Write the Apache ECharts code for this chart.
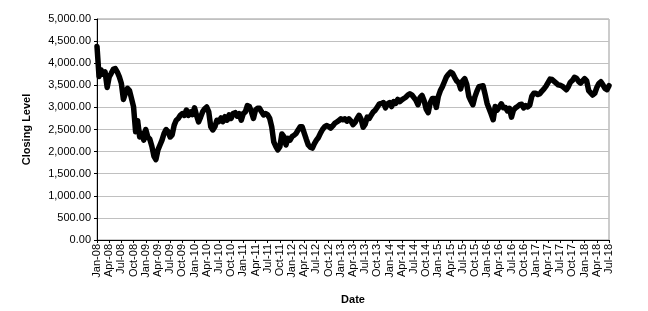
<!DOCTYPE html>
<html>
<head>
<meta charset="utf-8">
<script src="https://cdn.jsdelivr.net/npm/echarts@6/dist/echarts.min.js"></script>
<style>
html,body{margin:0;padding:0;background:#fff;}
#chart{width:648px;height:311px;}
</style>
</head>
<body>
<div id="chart"></div>
<script>
// Quarterly tick labels (x axis, one every 3 months starting Jan-08)
var tickLabels = ['Jan-08','Apr-08','Jul-08','Oct-08','Jan-09','Apr-09','Jul-09','Oct-09',
  'Jan-10','Apr-10','Jul-10','Oct-10','Jan-11','Apr-11','Jul-11','Oct-11',
  'Jan-12','Apr-12','Jul-12','Oct-12','Jan-13','Apr-13','Jul-13','Oct-13',
  'Jan-14','Apr-14','Jul-14','Oct-14','Jan-15','Apr-15','Jul-15','Oct-15',
  'Jan-16','Apr-16','Jul-16','Oct-16','Jan-17','Apr-17','Jul-17','Oct-17',
  'Jan-18','Apr-18','Jul-18'];

// Closing level, sampled every half month from Jan-08 to Jul-18
var closing = [
  4380,3700,3850,3750,3800,3450,3690,3770,3860,3880,
  3800,3690,3540,3180,3320,3430,3380,3200,3010,2450,
  2700,2330,2420,2260,2500,2330,2280,2120,1900,1820,
  2040,2150,2260,2410,2500,2450,2330,2380,2600,2710,
  2750,2820,2860,2820,2940,2820,2900,2840,2990,2820,
  2670,2780,2900,2970,3010,2900,2560,2490,2560,2710,
  2680,2760,2680,2790,2710,2830,2750,2860,2880,2800,
  2860,2710,2860,2900,3040,3020,2900,2750,2940,2980,
  2980,2900,2830,2860,2830,2750,2560,2220,2120,2040,
  2110,2400,2340,2150,2300,2260,2340,2370,2410,2490,
  2560,2560,2420,2280,2150,2100,2080,2180,2260,2320,
  2420,2500,2560,2590,2570,2530,2580,2640,2670,2700,
  2740,2720,2740,2690,2740,2690,2610,2660,2750,2820,
  2730,2550,2620,2780,2750,2830,2900,2940,3010,3080,
  3090,3110,2990,3080,3110,3020,3130,3090,3180,3130,
  3170,3200,3230,3280,3310,3280,3220,3160,3060,3220,
  3270,3150,2960,2880,3100,3200,3200,3000,3250,3380,
  3470,3580,3690,3750,3800,3770,3680,3600,3560,3420,
  3600,3650,3520,3250,3150,3060,3240,3370,3470,3480,
  3490,3300,3090,2970,2850,2720,3020,2940,3010,3080,
  2990,3000,2920,2980,2780,2940,2990,3020,3060,3070,
  2990,3040,3010,3050,3250,3320,3320,3290,3310,3370,
  3420,3480,3560,3640,3630,3590,3550,3510,3500,3480,
  3440,3400,3470,3570,3610,3680,3660,3590,3550,3600,
  3650,3600,3380,3330,3280,3320,3450,3540,3580,3510,
  3430,3400,3490
];

var seriesData = closing.map(function (v, i) { return [i / 2, v]; });

function fmtNum(v) {
  var parts = v.toFixed(2).split('.');
  parts[0] = parts[0].replace(/\B(?=(\d{3})+(?!\d))/g, ',');
  return parts.join('.');
}

var font = 'Liberation Sans, Arial, sans-serif';
var chart = echarts.init(document.getElementById('chart'), null, {renderer: 'canvas'});
chart.setOption({
  backgroundColor: '#ffffff',
  animation: false,
  grid: {
    left: 97, right: 39, top: 19, bottom: 71,
    show: true, borderColor: '#999999', borderWidth: 1, backgroundColor: 'transparent'
  },
  xAxis: {
    type: 'value',
    min: 0, max: 126, interval: 3,
    name: 'Date', nameLocation: 'middle', nameGap: 54,
    nameTextStyle: {fontFamily: font, fontSize: 11, fontWeight: 'bold', color: '#000'},
    axisLine: {show: true, onZero: false, lineStyle: {color: '#000', width: 1}},
    axisTick: {show: true, length: 3, inside: false, lineStyle: {color: '#000'}},
    splitLine: {show: false},
    axisLabel: {
      rotate: 90, margin: 4, fontFamily: font, fontSize: 11, color: '#000',
      showMinLabel: true, showMaxLabel: true,
      formatter: function (v) { return tickLabels[Math.round(v / 3)] || ''; }
    }
  },
  yAxis: {
    type: 'value',
    min: 0, max: 5000, interval: 500,
    name: 'Closing Level', nameLocation: 'middle', nameGap: 65,
    nameTextStyle: {fontFamily: font, fontSize: 11, fontWeight: 'bold', color: '#000'},
    axisLine: {show: true, lineStyle: {color: '#000', width: 1}},
    axisTick: {show: true, length: 3, lineStyle: {color: '#000'}},
    splitLine: {show: true, lineStyle: {color: '#c0c0c0', width: 1}},
    axisLabel: {
      margin: 6, fontFamily: font, fontSize: 11, color: '#000',
      formatter: function (v) { return fmtNum(v); }
    }
  },
  series: [{
    type: 'line',
    data: seriesData,
    showSymbol: false,
    symbol: 'none',
    lineStyle: {color: '#000', width: 5.5, join: 'round', cap: 'round'},
    clip: true
  }]
});
</script>
</body>
</html>
